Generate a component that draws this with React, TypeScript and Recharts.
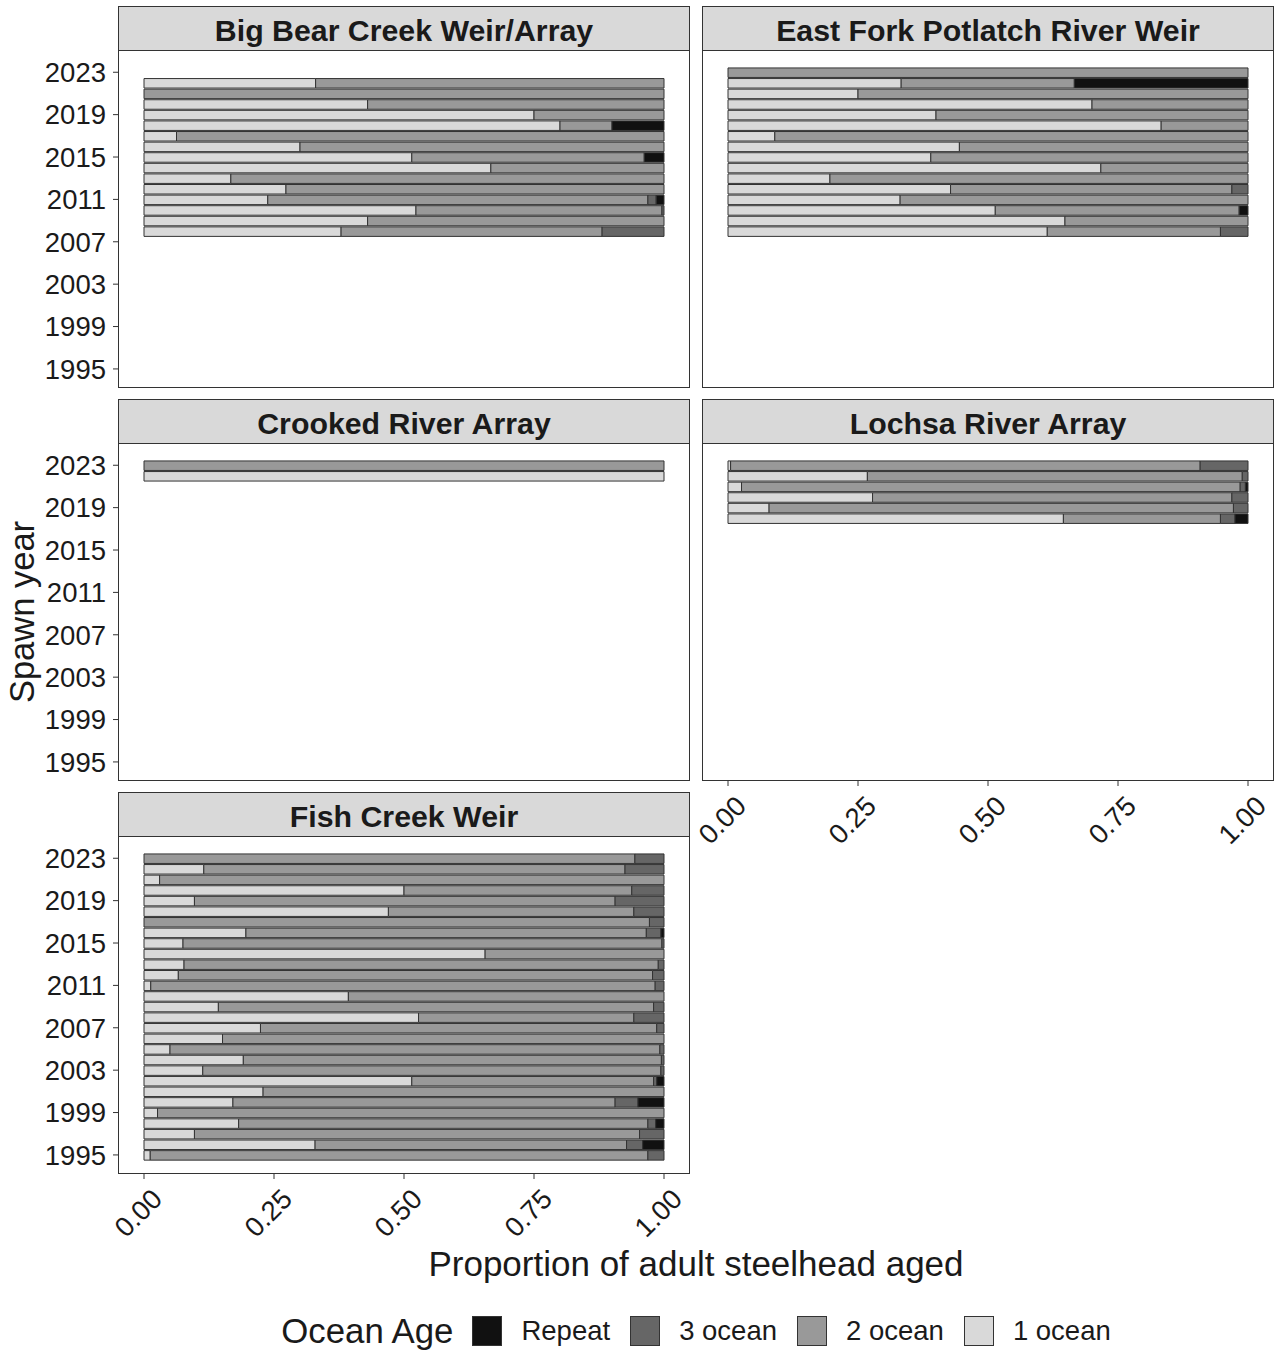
import { BarChart, Bar, XAxis, YAxis } from "recharts"

const FONT = '"Liberation Sans", Arial, Helvetica, sans-serif'
const INK = "#1a1a1a"
const EDGE = "#333333"

// fill per ocean age class
const ageFills = {
	one: "#d9d9d9",
	two: "#999999",
	three: "#666666",
	repeat: "#111111",
}

const ageLabels = [
	{ key: "repeat", label: "Repeat" },
	{ key: "three", label: "3 ocean" },
	{ key: "two", label: "2 ocean" },
	{ key: "one", label: "1 ocean" },
]

const yearTicks = [1995, 1999, 2003, 2007, 2011, 2015, 2019, 2023]
const propTicks = [0, 0.25, 0.5, 0.75, 1]

// Big Bear Creek Weir/Array
const bigBearYears = [2022, 2021, 2020, 2019, 2018, 2017, 2016, 2015, 2014, 2013, 2012, 2011, 2010, 2009, 2008]
const bigBearOne = [0.33, 0, 0.43, 0.75, 0.8, 0.0625, 0.3, 0.515, 0.667, 0.167, 0.273, 0.238, 0.523, 0.43, 0.379]
const bigBearTwo = [0.67, 1, 0.57, 0.25, 0.1, 0.9375, 0.7, 0.447, 0.333, 0.833, 0.727, 0.731, 0.473, 0.57, 0.502]
const bigBearThree = [0, 0, 0, 0, 0, 0, 0, 0, 0, 0, 0, 0.016, 0.004, 0, 0.119]
const bigBearRepeat = [0, 0, 0, 0, 0.1, 0, 0, 0.038, 0, 0, 0, 0.015, 0, 0, 0]

// East Fork Potlatch River Weir
const eastForkYears = [2023, 2022, 2021, 2020, 2019, 2018, 2017, 2016, 2015, 2014, 2013, 2012, 2011, 2010, 2009, 2008]
const eastForkOne = [0, 0.333, 0.25, 0.7, 0.4, 0.833, 0.09, 0.445, 0.39, 0.717, 0.196, 0.428, 0.331, 0.514, 0.648, 0.614]
const eastForkTwo = [1, 0.333, 0.75, 0.3, 0.6, 0.167, 0.91, 0.555, 0.61, 0.283, 0.804, 0.541, 0.669, 0.469, 0.352, 0.333]
const eastForkThree = [0, 0, 0, 0, 0, 0, 0, 0, 0, 0, 0, 0.031, 0, 0, 0, 0.053]
const eastForkRepeat = [0, 0.334, 0, 0, 0, 0, 0, 0, 0, 0, 0, 0, 0, 0.017, 0, 0]

// Crooked River Array
const crookedYears = [2023, 2022]
const crookedOne = [0, 1]
const crookedTwo = [1, 0]
const crookedThree = [0, 0]
const crookedRepeat = [0, 0]

// Lochsa River Array
const lochsaYears = [2023, 2022, 2021, 2020, 2019, 2018]
const lochsaOne = [0.005, 0.268, 0.026, 0.278, 0.079, 0.645]
const lochsaTwo = [0.903, 0.721, 0.959, 0.691, 0.893, 0.302]
const lochsaThree = [0.092, 0.011, 0.01, 0.031, 0.028, 0.028]
const lochsaRepeat = [0, 0, 0.005, 0, 0, 0.025]

// Fish Creek Weir
const fishYears = [
	2023, 2022, 2021, 2020, 2019, 2018, 2017, 2016, 2015, 2014, 2013, 2012, 2011, 2010, 2009,
	2008, 2007, 2006, 2005, 2004, 2003, 2002, 2001, 2000, 1999, 1998, 1997, 1996, 1995,
]
const fishOne = [
	0, 0.115, 0.03, 0.5, 0.097, 0.47, 0, 0.196, 0.075, 0.656, 0.077, 0.066, 0.013, 0.393, 0.143,
	0.528, 0.224, 0.151, 0.05, 0.191, 0.113, 0.515, 0.229, 0.171, 0.026, 0.182, 0.097, 0.329, 0.012,
]
const fishTwo = [
	0.944, 0.81, 0.97, 0.438, 0.809, 0.472, 0.972, 0.77, 0.921, 0.344, 0.912, 0.912, 0.97, 0.607, 0.837,
	0.414, 0.762, 0.849, 0.942, 0.804, 0.881, 0.465, 0.771, 0.735, 0.974, 0.787, 0.856, 0.599, 0.957,
]
const fishThree = [
	0.056, 0.075, 0, 0.062, 0.094, 0.058, 0.028, 0.028, 0.004, 0, 0.011, 0.022, 0.017, 0, 0.02,
	0.058, 0.014, 0, 0.008, 0.005, 0.006, 0.006, 0, 0.044, 0, 0.015, 0.047, 0.031, 0.031,
]
const fishRepeat = [
	0, 0, 0, 0, 0, 0, 0, 0.006, 0, 0, 0, 0, 0, 0, 0,
	0, 0, 0, 0, 0, 0, 0.014, 0, 0.05, 0, 0.016, 0, 0.041, 0,
]

function toRows(years: number[], one: number[], two: number[], three: number[], repeat: number[]) {
	return years.map((year, i) => ({
		year,
		one: one[i],
		two: two[i],
		three: three[i],
		repeat: repeat[i],
	}))
}

const panels = [
	{ title: "Big Bear Creek Weir/Array", data: toRows(bigBearYears, bigBearOne, bigBearTwo, bigBearThree, bigBearRepeat), col: 0, row: 0, showY: true, showX: false },
	{ title: "East Fork Potlatch River Weir", data: toRows(eastForkYears, eastForkOne, eastForkTwo, eastForkThree, eastForkRepeat), col: 1, row: 0, showY: false, showX: false },
	{ title: "Crooked River Array", data: toRows(crookedYears, crookedOne, crookedTwo, crookedThree, crookedRepeat), col: 0, row: 1, showY: true, showX: false },
	{ title: "Lochsa River Array", data: toRows(lochsaYears, lochsaOne, lochsaTwo, lochsaThree, lochsaRepeat), col: 1, row: 1, showY: false, showX: true },
	{ title: "Fish Creek Weir", data: toRows(fishYears, fishOne, fishTwo, fishThree, fishRepeat), col: 0, row: 2, showY: true, showX: true },
]

// facet grid geometry
const COL_LEFT = [118, 702]
const PANEL_W = 572
const STRIP_TOP = [6, 399, 792]
const STRIP_H = 44
const PLOT_H = 338
const X_AXIS_H = 80
const GUTTER = 40 // room for rotated tick text on panels without a y axis

function AngledTick(props: any) {
	const { x, y, payload } = props
	return (
		<text
			x={x}
			y={y}
			dy={28}
			transform={`rotate(-45 ${x} ${y})`}
			textAnchor="end"
			fontSize={27.5}
			fontFamily={FONT}
			fill={INK}
		>
			{Number(payload.value).toFixed(2)}
		</text>
	)
}

function Panel(props: any) {
	const { title, data, col, row, showY, showX } = props
	const left = COL_LEFT[col]
	const stripTop = STRIP_TOP[row]
	const plotTop = stripTop + STRIP_H
	const leftSpace = showY ? left : GUTTER
	const xAxisH = showX ? X_AXIS_H : 0

	return (
		<>
			<div
				style={{
					position: "absolute",
					left,
					top: stripTop,
					width: PANEL_W,
					height: STRIP_H + 1,
					boxSizing: "border-box",
					paddingTop: 4,
					background: "#d9d9d9",
					border: `1px solid ${EDGE}`,
					display: "flex",
					alignItems: "center",
					justifyContent: "center",
					fontFamily: FONT,
					fontWeight: "bold",
					fontSize: 30.3,
					color: INK,
				}}
			>
				{title}
			</div>
			<div style={{ position: "absolute", left: left - leftSpace, top: plotTop }}>
				<BarChart
					width={PANEL_W + leftSpace}
					height={PLOT_H + xAxisH}
					data={data}
					layout="vertical"
					margin={{ top: 0, right: 0, bottom: 0, left: showY ? 0 : GUTTER }}
					barSize={9.5}
				>
					<XAxis
						type="number"
						domain={[-0.05, 1.05]}
						ticks={propTicks}
						interval={0}
						hide={!showX}
						height={xAxisH}
						axisLine={false}
						tickSize={5}
						tickMargin={2}
						tickLine={{ stroke: EDGE }}
						tick={<AngledTick />}
					/>
					<YAxis
						type="number"
						dataKey="year"
						domain={[1993.2, 2025.1]}
						ticks={yearTicks}
						interval={0}
						reversed
						hide={!showY}
						width={leftSpace}
						axisLine={false}
						tickSize={5}
						tickMargin={7}
						tickLine={{ stroke: EDGE }}
						tick={{ fontSize: 27.5, fontFamily: FONT, fill: INK }}
					/>
					<Bar dataKey="one" stackId="age" fill={ageFills.one} stroke={EDGE} strokeWidth={1} isAnimationActive={false} />
					<Bar dataKey="two" stackId="age" fill={ageFills.two} stroke={EDGE} strokeWidth={1} isAnimationActive={false} />
					<Bar dataKey="three" stackId="age" fill={ageFills.three} stroke={EDGE} strokeWidth={1} isAnimationActive={false} />
					<Bar dataKey="repeat" stackId="age" fill={ageFills.repeat} stroke={EDGE} strokeWidth={1} isAnimationActive={false} />
				</BarChart>
			</div>
			<div
				style={{
					position: "absolute",
					left,
					top: plotTop,
					width: PANEL_W,
					height: PLOT_H,
					boxSizing: "border-box",
					border: `1px solid ${EDGE}`,
					pointerEvents: "none",
				}}
			/>
		</>
	)
}

function OceanLegend() {
	return (
		<div
			style={{
				position: "absolute",
				left: COL_LEFT[0],
				top: 1314,
				width: COL_LEFT[1] + PANEL_W - COL_LEFT[0],
				height: 34,
				display: "flex",
				alignItems: "center",
				justifyContent: "center",
				fontFamily: FONT,
				color: INK,
			}}
		>
			<span style={{ fontSize: 34.8, marginRight: 19 }}>Ocean Age</span>
			{ageLabels.map((item, i) => (
				<span key={item.key} style={{ display: "flex", alignItems: "center", marginRight: i < ageLabels.length - 1 ? 20 : 0 }}>
					<span
						style={{
							width: 30,
							height: 30,
							boxSizing: "border-box",
							background: ageFills[item.key as keyof typeof ageFills],
							border: `1px solid ${EDGE}`,
							marginRight: 19,
						}}
					/>
					<span style={{ fontSize: 27.5 }}>{item.label}</span>
				</span>
			))}
		</div>
	)
}

export default function App() {
	const gridLeft = COL_LEFT[0]
	const gridRight = COL_LEFT[1] + PANEL_W
	const plotsTop = STRIP_TOP[0] + STRIP_H
	const plotsBottom = STRIP_TOP[2] + STRIP_H + PLOT_H
	const yTitleY = (plotsTop + plotsBottom) / 2
	return (
		<div
			style={{
				position: "absolute",
				left: 0,
				top: 0,
				width: 1281,
				height: 1352,
				background: "#ffffff",
				overflow: "hidden",
			}}
		>
			{panels.map((p) => (
				<Panel key={p.title} {...p} />
			))}
			<svg width={1281} height={1352} style={{ position: "absolute", left: 0, top: 0, pointerEvents: "none" }}>
				<text
					x={(gridLeft + gridRight) / 2}
					y={1263}
					textAnchor="middle"
					dominantBaseline="central"
					fontSize={35}
					fontFamily={FONT}
					fill={INK}
				>
					Proportion of adult steelhead aged
				</text>
				<text
					x={22}
					y={yTitleY}
					textAnchor="middle"
					dominantBaseline="central"
					transform={`rotate(-90 22 ${yTitleY})`}
					fontSize={34.5}
					fontFamily={FONT}
					fill={INK}
				>
					Spawn year
				</text>
			</svg>
			<OceanLegend />
		</div>
	)
}
